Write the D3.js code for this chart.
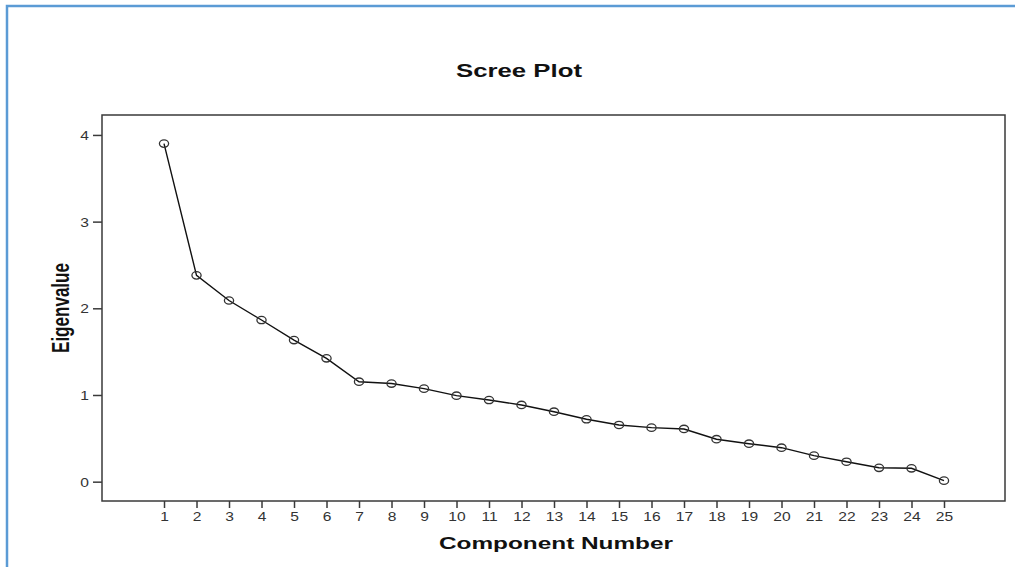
<!DOCTYPE html>
<html>
<head>
<meta charset="utf-8">
<script src="https://cdn.jsdelivr.net/npm/d3@7/dist/d3.min.js"></script>
<style>
  html, body { margin: 0; padding: 0; background: #fff; }
  svg { display: block; }
</style>
</head>
<body>
<svg id="chart" width="1015" height="567"></svg>
<script>
// ---- data ----
const components = [1,2,3,4,5,6,7,8,9,10,11,12,13,14,15,16,17,18,19,20,21,22,23,24,25];
const eigenvalues = [3.90,2.38,2.09,1.865,1.634,1.423,1.153,1.132,1.073,0.992,0.942,0.885,0.807,0.72,0.654,0.623,0.608,0.49,0.438,0.392,0.30,0.23,0.16,0.154,0.012];
const yTicks = [0,1,2,3,4];
const titleText = "Scree Plot";
const xLabel = "Component Number";
const yLabel = "Eigenvalue";

// ---- layout ----
const W = 1015, H = 567;
const plot = { left: 102, right: 1005, top: 115, bottom: 501 };
const stretch = 1.3;
const FONT = "'Liberation Sans', Arial, sans-serif";

const svg = d3.select("#chart");

// outer blue frame
svg.append("rect")
  .attr("x", 7).attr("y", 6)
  .attr("width", W + 10).attr("height", H + 10)
  .attr("fill", "none")
  .attr("stroke", "#5b9bd5")
  .attr("stroke-width", 2.5);

const x = d3.scaleLinear().domain([-0.908, 26.877]).range([plot.left, plot.right]);
const y = d3.scaleLinear().domain([-0.223, 4.23]).range([plot.bottom, plot.top]);

function stretchedText(g, tx, ty, txt, opts) {
  return g.append("text")
    .attr("transform", `translate(${tx},${ty}) scale(${opts.sx || stretch},1)`)
    .attr("text-anchor", opts.anchor || "middle")
    .attr("font-family", FONT)
    .attr("font-size", opts.size)
    .attr("font-weight", opts.weight || "normal")
    .attr("fill", opts.fill || "#000")
    .text(txt);
}

function fittedText(g, cx, by, txt, size, len) {
  return g.append("text")
    .attr("x", cx - len / 2).attr("y", by)
    .attr("text-anchor", "start")
    .attr("font-family", FONT)
    .attr("font-size", size)
    .attr("font-weight", "bold")
    .attr("fill", "#111")
    .attr("textLength", len)
    .attr("lengthAdjust", "spacingAndGlyphs")
    .text(txt);
}

// title
fittedText(svg, 519, 77, titleText, 18, 126);

// plot frame
svg.append("rect")
  .attr("x", plot.left).attr("y", plot.top)
  .attr("width", plot.right - plot.left).attr("height", plot.bottom - plot.top)
  .attr("fill", "none")
  .attr("stroke", "#3a3a3a")
  .attr("stroke-width", 1.5);

// x axis
const xAxis = d3.axisBottom(x).tickValues(components).tickSize(7).tickSizeOuter(0).tickFormat(d3.format("d"));
const gx = svg.append("g").attr("transform", `translate(0,${plot.bottom})`).call(xAxis);
gx.select(".domain").remove();
gx.selectAll(".tick line").attr("stroke", "#3a3a3a").attr("stroke-width", 1.5);
gx.selectAll(".tick text").remove();
gx.selectAll(".tick").each(function(d) {
  stretchedText(d3.select(this), 0, 20, d, { size: 12, fill: "#333" });
});

// y axis
const yAxis = d3.axisLeft(y).tickValues(yTicks).tickSize(9).tickSizeOuter(0).tickFormat(d3.format("d"));
const gy = svg.append("g").attr("transform", `translate(${plot.left},0)`).call(yAxis);
gy.select(".domain").remove();
gy.selectAll(".tick line").attr("stroke", "#3a3a3a").attr("stroke-width", 1.5);
gy.selectAll(".tick text").remove();
gy.selectAll(".tick").each(function(d) {
  stretchedText(d3.select(this), -13, 4.5, d, { size: 12, fill: "#333", anchor: "end" });
});

// axis labels
fittedText(svg, 556, 549, xLabel, 16, 234);
svg.append("g")
  .attr("transform", `translate(69,308) rotate(-90) scale(1,1.4)`)
  .append("text")
  .attr("x", -45).attr("y", 0)
  .attr("font-family", FONT)
  .attr("font-size", 17)
  .attr("font-weight", "bold")
  .attr("fill", "#111")
  .attr("textLength", 90)
  .attr("lengthAdjust", "spacingAndGlyphs")
  .text(yLabel);

// line
const data = components.map((c, i) => ({ c, v: eigenvalues[i] }));
svg.append("path")
  .datum(data)
  .attr("fill", "none")
  .attr("stroke", "#111")
  .attr("stroke-width", 1.4)
  .attr("d", d3.line().x(d => x(d.c)).y(d => y(d.v)));

// markers
svg.append("g").selectAll("ellipse")
  .data(data)
  .join("ellipse")
  .attr("cx", d => x(d.c))
  .attr("cy", d => y(d.v))
  .attr("rx", 4.6)
  .attr("ry", 3.7)
  .attr("fill", "none")
  .attr("stroke", "#333")
  .attr("stroke-width", 1.3);
</script>
</body>
</html>
